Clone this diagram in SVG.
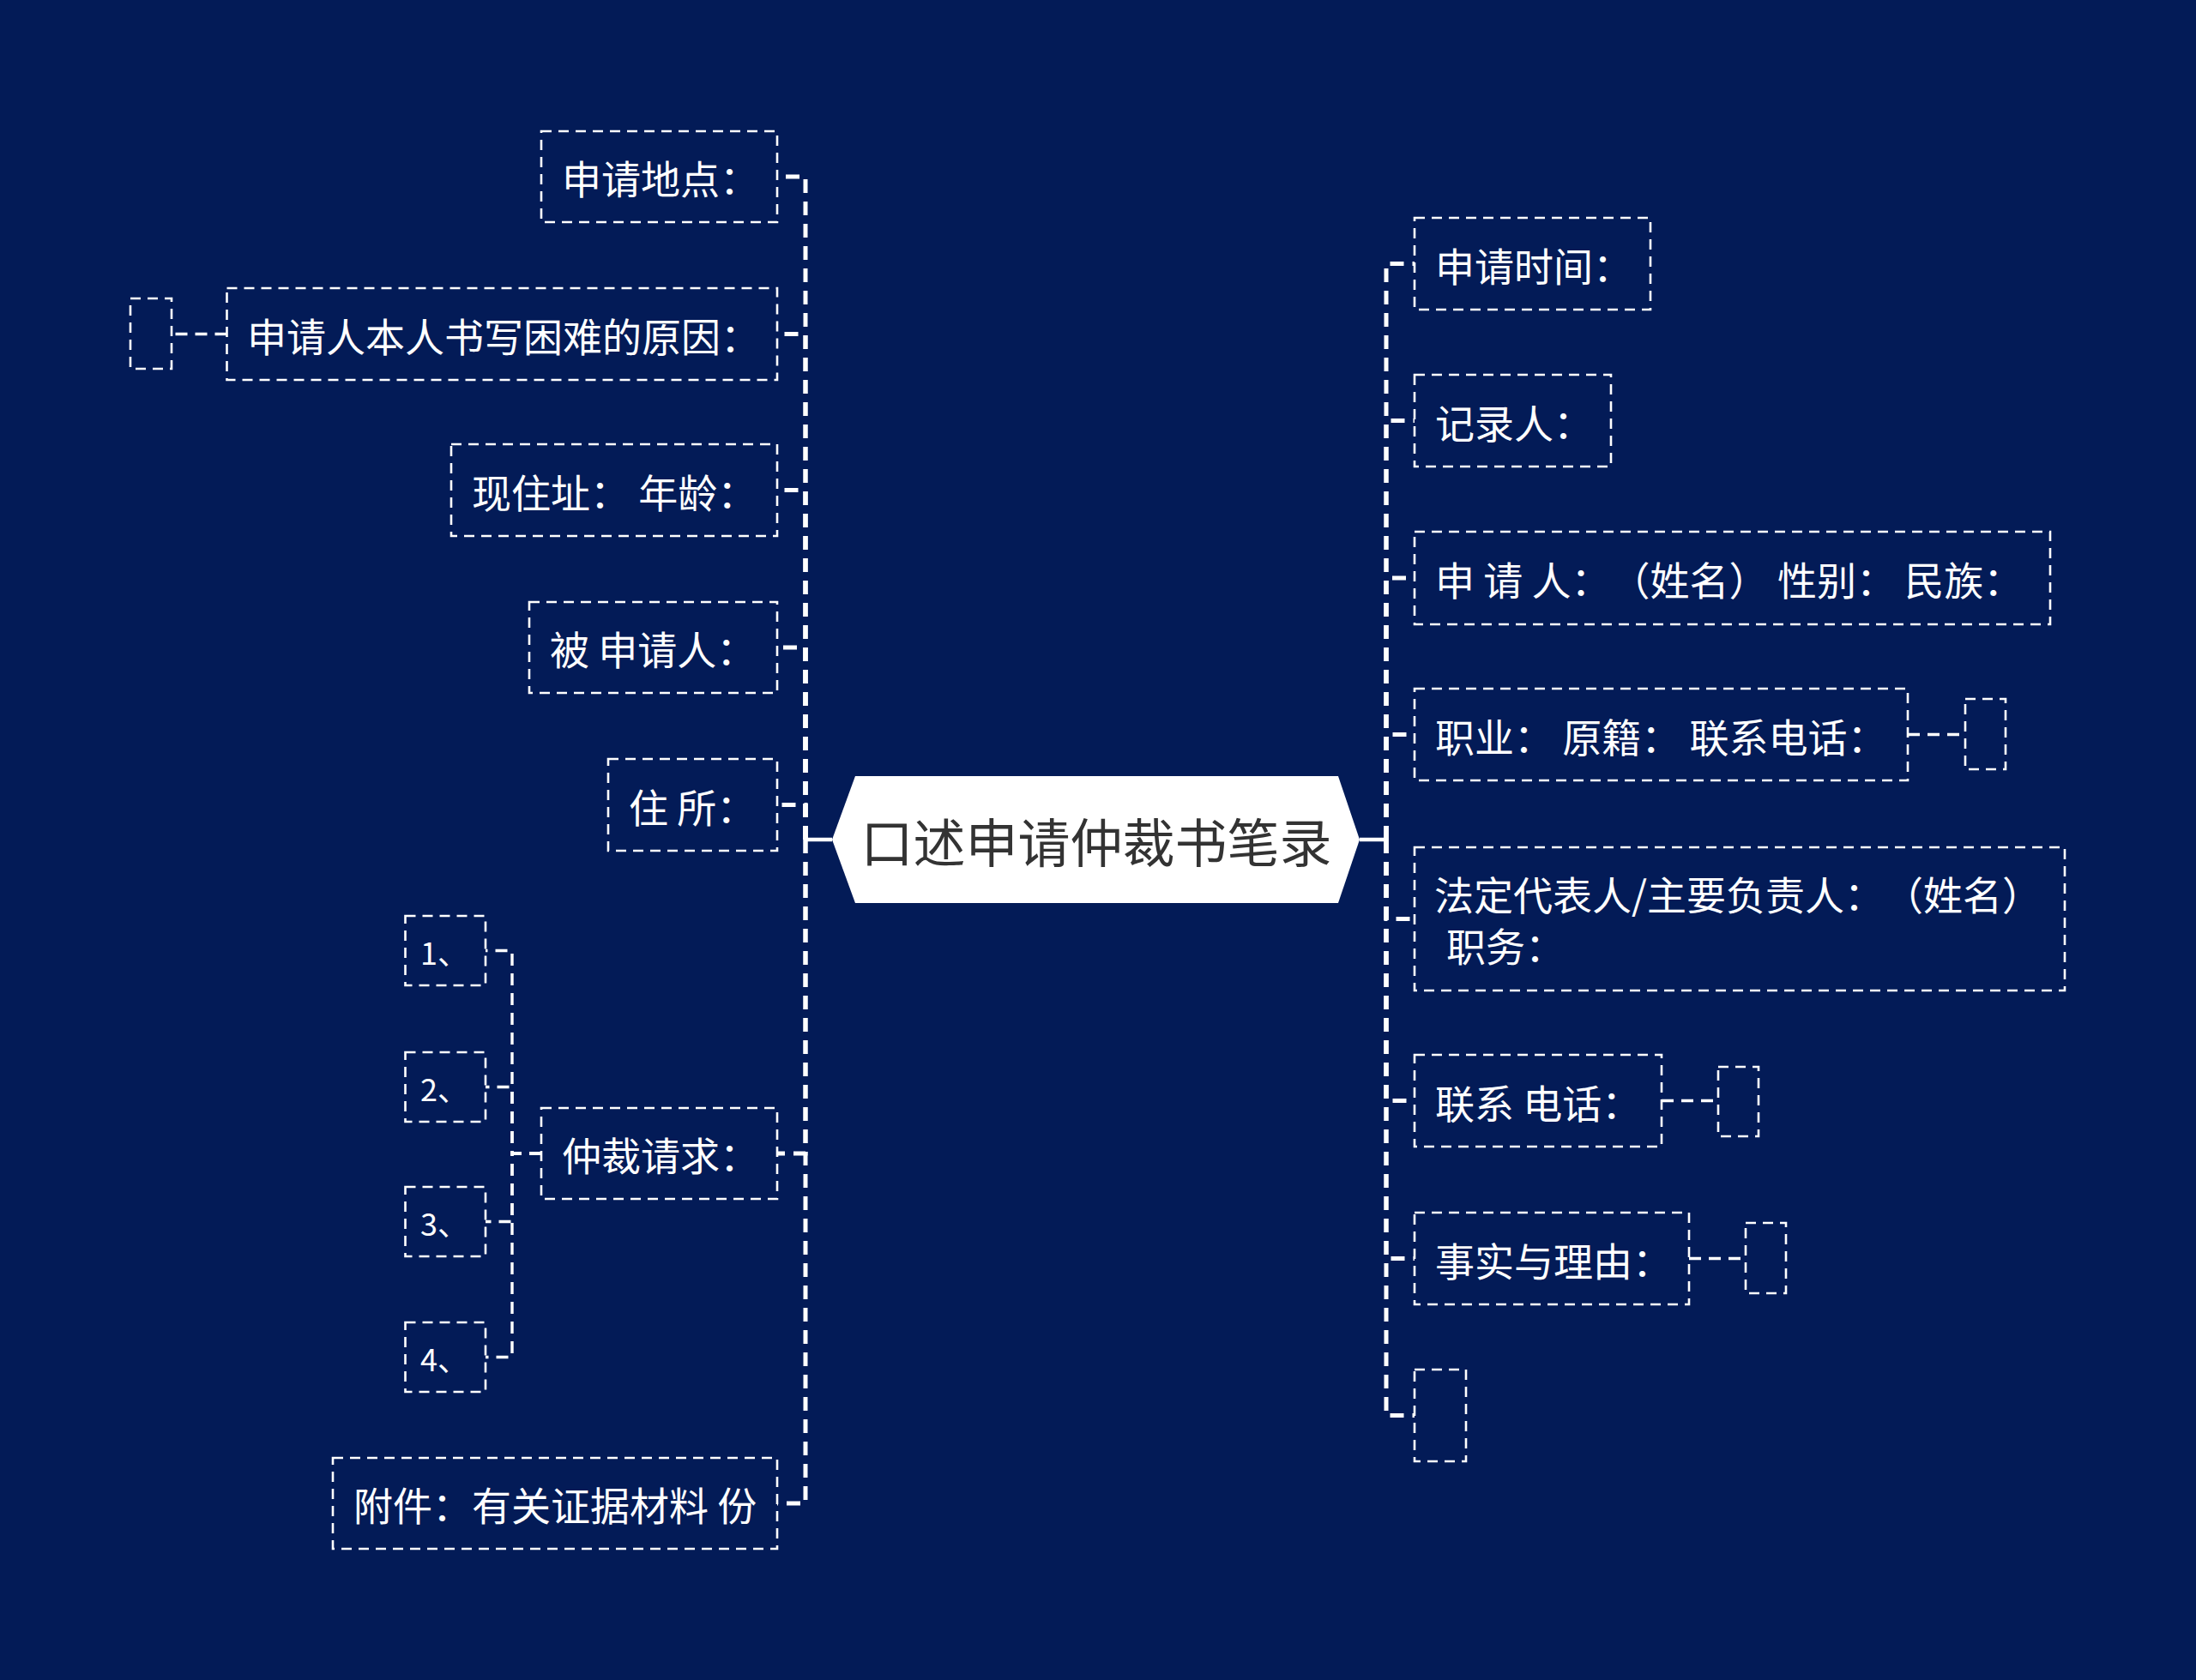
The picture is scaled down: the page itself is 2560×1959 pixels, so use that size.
<svg xmlns="http://www.w3.org/2000/svg" width="2560" height="1959" viewBox="0 0 2560 1959">
<style>
text{text-spacing-trim:space-all;font-feature-settings:"chws" 0,"halt" 0,"palt" 0;}
.box{fill:none;stroke:#ffffff;stroke-width:2.6;stroke-dasharray:12 8;}
.t{fill:#ffffff;font-family:"Microsoft YaHei","Noto Sans CJK SC","Noto Sans",sans-serif;font-size:46px;dominant-baseline:central;}
.ts{fill:#ffffff;font-family:"Microsoft YaHei","Noto Sans CJK SC","Noto Sans",sans-serif;font-size:36px;dominant-baseline:central;}
.l1{fill:none;stroke:#ffffff;stroke-width:5;stroke-dasharray:16 10;}
.l2{fill:none;stroke:#ffffff;stroke-width:3.4;stroke-dasharray:14 9;}
.solid{fill:none;stroke:#ffffff;stroke-width:4.5;}
</style>
<rect x="0" y="0" width="2560" height="1959" fill="#031b57"/>
<g id="connectors">
<path class="solid" d="M970 979 H939"/>
<path class="solid" d="M1585 979 H1616"/>
<path class="l1" d="M939 979 V206 H906"/>
<path class="l1" d="M939 979 V389.5 H906"/>
<path class="l1" d="M939 979 V571.5 H906"/>
<path class="l1" d="M939 979 V755 H906"/>
<path class="l1" d="M939 979 V938.5 H906"/>
<path class="l1" d="M939 979 V1345 H906"/>
<path class="l1" d="M939 979 V1753 H906"/>
<path class="l1" d="M1616 979 V307.5 H1649"/>
<path class="l1" d="M1616 979 V490.5 H1649"/>
<path class="l1" d="M1616 979 V674 H1649"/>
<path class="l1" d="M1616 979 V856.5 H1649"/>
<path class="l1" d="M1616 979 V1071.5 H1649"/>
<path class="l1" d="M1616 979 V1283.5 H1649"/>
<path class="l1" d="M1616 979 V1467.5 H1649"/>
<path class="l1" d="M1616 979 V1650.5 H1649"/>
<path class="l2" d="M264.5 389.5 H200"/>
<path class="l2" d="M631 1345 H597 V1108.5 H566"/>
<path class="l2" d="M631 1345 H597 V1267.5 H566"/>
<path class="l2" d="M631 1345 H597 V1424.5 H566"/>
<path class="l2" d="M631 1345 H597 V1582.5 H566"/>
<path class="l2" d="M2224 856.5 H2291"/>
<path class="l2" d="M1937 1283.5 H2003"/>
<path class="l2" d="M1969 1467.5 H2035"/>
</g>
<g id="root">
<polygon points="997,905 1560,905 1585,979 1560,1053 997,1053 970,979" fill="#ffffff"/>
<text x="1278" y="979" text-anchor="middle" font-family="'Microsoft YaHei','Noto Sans CJK SC',sans-serif" font-size="61" fill="#333333" dominant-baseline="central">口述申请仲裁书笔录</text>
</g>
<g id="n-didian"><rect class="box" x="631" y="153" width="275" height="106"/><text class="t" x="655" y="206">申请地点：</text></g>
<g id="n-yuanyin"><rect class="box" x="264.5" y="336" width="641.5" height="107"/><text class="t" x="288" y="389.5">申请人本人书写困难的原因：</text></g>
<g id="n-yuanyin-c"><rect class="box" x="152" y="348" width="48" height="82"/></g>
<g id="n-zhuzhi"><rect class="box" x="526" y="518" width="380" height="107"/><text class="t" x="550" y="571.5">现住址： 年龄：</text></g>
<g id="n-bei"><rect class="box" x="617" y="702" width="289" height="106"/><text class="t" x="641" y="755">被 申请人：</text></g>
<g id="n-zhusuo"><rect class="box" x="709" y="885" width="197" height="107"/><text class="t" x="733" y="938.5">住 所：</text></g>
<g id="n-qingqiu"><rect class="box" x="631" y="1292" width="275" height="106"/><text class="t" x="655" y="1345">仲裁请求：</text></g>
<g id="n-q1"><rect class="box" x="472.5" y="1068" width="93.5" height="81"/><text class="ts" x="490" y="1108.5">1、</text></g>
<g id="n-q2"><rect class="box" x="472.5" y="1227" width="93.5" height="81"/><text class="ts" x="490" y="1267.5">2、</text></g>
<g id="n-q3"><rect class="box" x="472.5" y="1384" width="93.5" height="81"/><text class="ts" x="490" y="1424.5">3、</text></g>
<g id="n-q4"><rect class="box" x="472.5" y="1542" width="93.5" height="81"/><text class="ts" x="490" y="1582.5">4、</text></g>
<g id="n-fujian"><rect class="box" x="388" y="1700" width="518" height="106"/><text class="t" x="412" y="1753">附件：有关证据材料 份</text></g>
<g id="n-shijian"><rect class="box" x="1649" y="254" width="275" height="107"/><text class="t" x="1673" y="307.5">申请时间：</text></g>
<g id="n-jilu"><rect class="box" x="1649" y="437" width="229" height="107"/><text class="t" x="1673" y="490.5">记录人：</text></g>
<g id="n-shenqingren"><rect class="box" x="1649" y="620" width="741" height="108"/><text class="t" x="1673" y="674" xml:space="preserve">申 请 人：（姓名） 性别： 民族：</text></g>
<g id="n-zhiye"><rect class="box" x="1649" y="803" width="575" height="107"/><text class="t" x="1673" y="856.5">职业： 原籍： 联系电话：</text></g>
<g id="n-zhiye-c"><rect class="box" x="2291" y="815" width="47" height="82"/></g>
<g id="n-fading"><rect class="box" x="1649" y="988" width="758" height="167"/><text class="t" x="1672" y="1041">法定代表人/主要负责人：（姓名）</text><text class="t" x="1686" y="1101">职务：</text></g>
<g id="n-dianhua"><rect class="box" x="1649" y="1230" width="288" height="107"/><text class="t" x="1673" y="1283.5">联系 电话：</text></g>
<g id="n-dianhua-c"><rect class="box" x="2003" y="1244" width="47" height="81"/></g>
<g id="n-shishi"><rect class="box" x="1649" y="1414" width="320" height="107"/><text class="t" x="1673" y="1467.5">事实与理由：</text></g>
<g id="n-shishi-c"><rect class="box" x="2035" y="1426" width="47" height="82"/></g>
<g id="n-empty"><rect class="box" x="1649" y="1597" width="60" height="107"/></g>
</svg>
